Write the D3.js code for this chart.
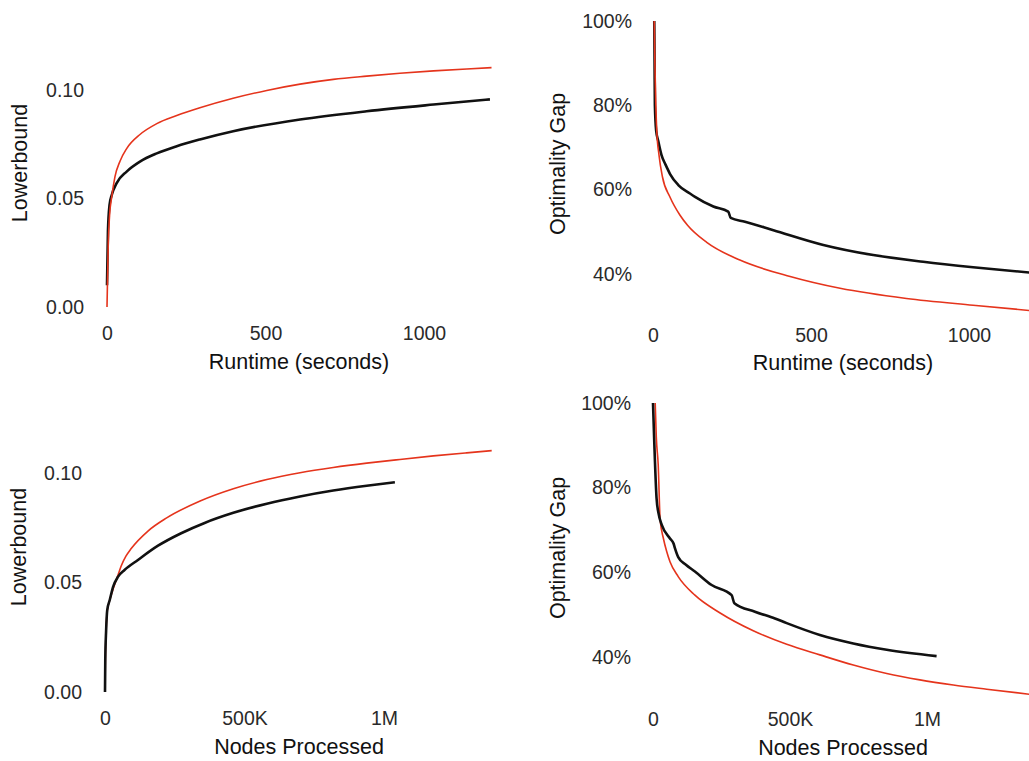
<!DOCTYPE html>
<html>
<head>
<meta charset="utf-8">
<script src="https://cdn.jsdelivr.net/npm/d3@7"></script>
<style>
  html, body { margin: 0; padding: 0; background: #fff; }
  svg { display: block; }
  text { font-family: "Liberation Sans", Arial, Helvetica, sans-serif; }
</style>
</head>
<body>
<svg id="chart" width="1029" height="761"></svg>
<script>
// ---- data -------------------------------------------------------------
// Lower bound vs runtime (seconds)
const lbRuntimeBlack = [[0,0.010],[3,0.035],[8,0.047],[15,0.0516],[30,0.057],[62,0.0624],[104,0.067],[157,0.0708],[220,0.0741],[293,0.0772],[398,0.0810],[609,0.0864],[819,0.0902],[1030,0.0933],[1208,0.0957]];
const lbRuntimeRed   = [[0,0],[2,0.015],[4,0.029],[8,0.042],[15,0.0508],[25,0.060],[41,0.0672],[62,0.0730],[104,0.0795],[157,0.0845],[220,0.0882],[293,0.0918],[398,0.0962],[504,0.0998],[609,0.1027],[714,0.1049],[819,0.1064],[924,0.1077],[1030,0.1088],[1135,0.1097],[1213,0.1103]];

// Optimality gap (%) vs runtime (seconds)
const gapRuntimeBlack = [[4,100],[5,90],[6,80],[10,74],[17,71.4],[27,68.2],[38,66.2],[43,65.4],[54,63.7],[80,61.1],[117,59.1],[133,58.3],[191,56.0],[238,54.8],[246,53.3],[291,52.4],[381,50.4],[539,46.9],[697,44.5],[855,42.9],[1013,41.6],[1213,40.2]];
const gapRuntimeRed   = [[4,100],[6,90],[9,80],[12,73.8],[19,68.2],[30,63.0],[54,58.2],[85,54.0],[110,51.5],[170,47.5],[275,43.3],[434,39.4],[592,36.6],[802,34.2],[1013,32.6],[1213,31.2]];

// Lower bound vs nodes processed (thousands)
const lbNodesBlack = [[0,0],[1,0.0146],[4,0.028],[8,0.0374],[17,0.042],[29,0.048],[47,0.0527],[70,0.0557],[118,0.0603],[190,0.0668],[273,0.0725],[357,0.0772],[460,0.0818],[580,0.0860],[699,0.0893],[818,0.0920],[938,0.0942],[1039,0.0958]];
const lbNodesRed   = [[0,0],[1,0.012],[4,0.028],[8,0.037],[17,0.042],[29,0.047],[47,0.0535],[58,0.0575],[75,0.062],[94,0.0655],[154,0.0735],[221,0.0795],[341,0.0872],[460,0.0928],[580,0.0970],[699,0.1001],[818,0.1025],[938,0.1045],[1057,0.1062],[1177,0.1078],[1296,0.1092],[1386,0.1102]];

// Optimality gap (%) vs nodes processed (thousands)
const gapNodesBlack = [[0,100],[5,90.1],[13,77.5],[20,74.0],[32,71.2],[62,68.0],[75,66.8],[80,65.7],[92,63.6],[120,61.8],[153,60.2],[214,57.0],[287,54.6],[297,52.7],[372,50.7],[445,49.1],[488,48.0],[609,45.2],[731,43.2],[853,41.7],[1035,40.2]];
const gapNodesRed   = [[8,100],[12,92],[19,85.4],[26,72.5],[38,68.0],[50,64.9],[62,62.5],[92,59.0],[153,54.6],[245,50.4],[366,46.2],[488,43.0],[609,40.5],[731,38.1],[853,36.1],[974,34.6],[1096,33.4],[1218,32.4],[1386,31.1]];

// tick values and labels
const lbTicks = [0, 0.05, 0.10];
const gapTicks = [40, 60, 80, 100];
const runtimeTicks = [0, 500, 1000];
const nodeTicks = [0, 500, 1000];
const nodeTickLabels = ["0", "500K", "1M"];

// ---- drawing ----------------------------------------------------------
const svg = d3.select("#chart");
const RED = "#e5341c", BLACK = "#111111";

const panels = [
  { xs: [0, 1000, 107, 424], ys: [0, 0.10, 307, 90], yTicks: lbTicks, yFmt: d3.format(".2f"),
    xTicks: runtimeTicks, xFmt: d3.format("d"), yAxisX: 84, xAxisY: 326,
    xTitle: "Runtime (seconds)", xTitlePos: [299, 369], yTitle: "Lowerbound", yTitlePos: [19, 163],
    black: lbRuntimeBlack, red: lbRuntimeRed, blackOnTop: false },
  { xs: [0, 1000, 653, 969], ys: [40, 100, 274, 21], yTicks: gapTicks, yFmt: d => d + "%",
    xTicks: runtimeTicks, xFmt: d3.format("d"), yAxisX: 632, xAxisY: 328,
    xTitle: "Runtime (seconds)", xTitlePos: [843, 370], yTitle: "Optimality Gap", yTitlePos: [557, 164],
    black: gapRuntimeBlack, red: gapRuntimeRed, blackOnTop: false },
  { xs: [0, 1000, 105, 384], ys: [0, 0.10, 692, 473], yTicks: lbTicks, yFmt: d3.format(".2f"),
    xTicks: nodeTicks, xFmt: (d, i) => nodeTickLabels[i], yAxisX: 82, xAxisY: 711,
    xTitle: "Nodes Processed", xTitlePos: [299, 754], yTitle: "Lowerbound", yTitlePos: [18, 547],
    black: lbNodesBlack, red: lbNodesRed, blackOnTop: true },
  { xs: [0, 1000, 653, 927], ys: [40, 100, 657, 403], yTicks: gapTicks, yFmt: d => d + "%",
    xTicks: nodeTicks, xFmt: (d, i) => nodeTickLabels[i], yAxisX: 631, xAxisY: 712,
    xTitle: "Nodes Processed", xTitlePos: [843, 755], yTitle: "Optimality Gap", yTitlePos: [557, 548],
    black: gapNodesBlack, red: gapNodesRed, blackOnTop: true }
];

panels.forEach(p => {
  const x = d3.scaleLinear().domain([p.xs[0], p.xs[1]]).range([p.xs[2], p.xs[3]]);
  const y = d3.scaleLinear().domain([p.ys[0], p.ys[1]]).range([p.ys[2], p.ys[3]]);

  const yAxis = d3.axisLeft(y).tickValues(p.yTicks).tickFormat(p.yFmt).tickSize(0).tickPadding(0);
  const gy = svg.append("g").attr("transform", `translate(${p.yAxisX},0)`).call(yAxis);
  const xAxis = d3.axisBottom(x).tickValues(p.xTicks).tickFormat(p.xFmt).tickSize(0).tickPadding(0);
  const gx = svg.append("g").attr("transform", `translate(0,${p.xAxisY})`).call(xAxis);
  [gx, gy].forEach(g => {
    g.select(".domain").remove();
    g.selectAll("text").attr("fill", "#2a2a2a").style("font-size", "19.5px")
      .style("font-family", '"Liberation Sans", Arial, Helvetica, sans-serif');
  });

  svg.append("text").attr("x", p.xTitlePos[0]).attr("y", p.xTitlePos[1])
    .attr("text-anchor", "middle").attr("font-size", 21.5).attr("fill", "#111")
    .text(p.xTitle);
  svg.append("text")
    .attr("transform", `translate(${p.yTitlePos[0]},${p.yTitlePos[1]}) rotate(-90)`)
    .attr("text-anchor", "middle").attr("dy", "0.35em").attr("font-size", 21.5).attr("fill", "#111")
    .text(p.yTitle);

  const line = d3.line().x(d => x(d[0])).y(d => y(d[1])).curve(d3.curveMonotoneX);
  const drawBlack = () => svg.append("path").attr("d", line(p.black)).attr("fill", "none")
    .attr("stroke", BLACK).attr("stroke-width", 2.6).attr("stroke-linejoin", "round");
  const drawRed = () => svg.append("path").attr("d", line(p.red)).attr("fill", "none")
    .attr("stroke", RED).attr("stroke-width", 1.6).attr("stroke-linejoin", "round");
  if (p.blackOnTop) { drawRed(); drawBlack(); } else { drawBlack(); drawRed(); }
});
</script>
</body>
</html>
